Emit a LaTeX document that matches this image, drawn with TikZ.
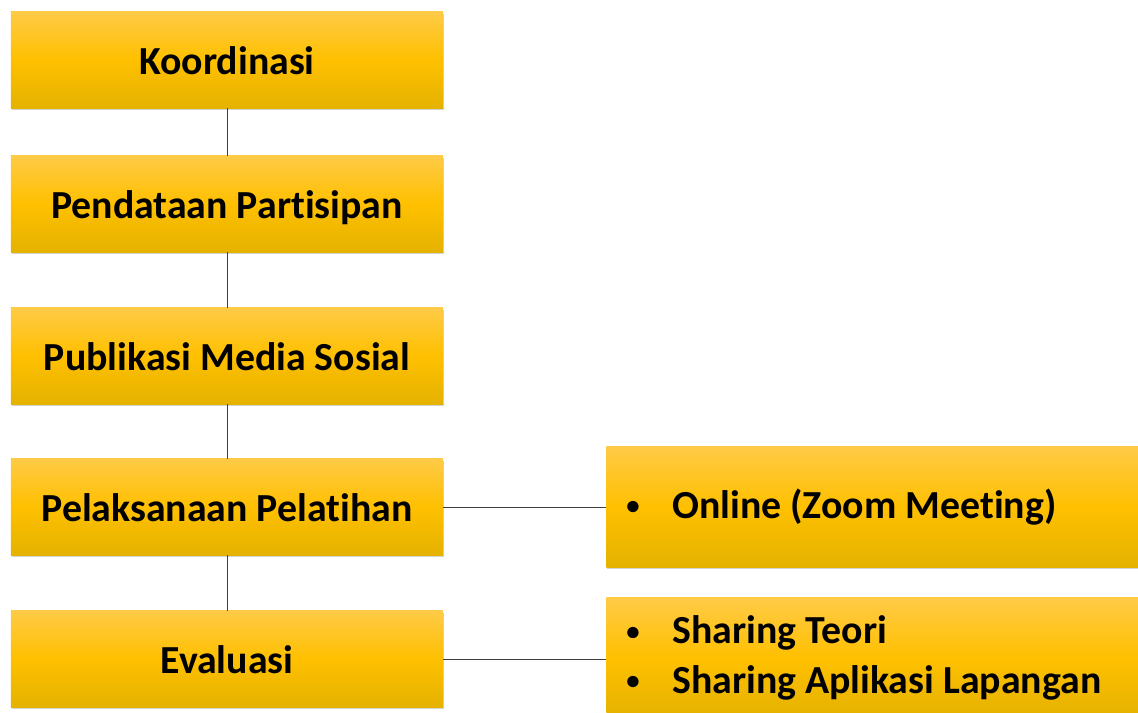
\documentclass[tikz,border=0pt]{standalone}
\usepackage{fontspec}
\setmainfont{Carlito}[RawFeature={-liga;-clig;-dlig;-calt;-rlig}]
\usetikzlibrary{shadows}

\definecolor{goldtop}{RGB}{255,202,70}
\definecolor{goldmid}{RGB}{255,192,0}
\definecolor{goldbot}{RGB}{228,178,0}
\definecolor{linegray}{RGB}{64,64,64}

\tikzset{
	box/.style={rectangle, top color=goldtop, bottom color=goldbot, middle color=goldmid,
		drop shadow={opacity=0.35, shadow xshift=0.8pt, shadow yshift=-1.6pt},
		font=\fontsize{28.3}{35}\selectfont\bfseries},
	leftbox/.style={box, minimum width=10.8cm, minimum height=2.4cm, inner sep=0pt,
		text height=20pt, text depth=0pt},
	rightbox/.style={box, anchor=west, minimum height=3cm, text width=12.5cm,
		inner xsep=0.5cm, align=left},
	link/.style={draw=linegray, line width=0.7pt}
}
\newcommand{\bul}{\spaceskip=0pt\relax\makebox[1.15cm][l]{\raisebox{2.5pt}{\fontsize{19}{19}\selectfont\textbullet}}}

\begin{document}
\begin{tikzpicture}[x=0.025cm, y=-0.025cm]
	\useasboundingbox (0,0) rectangle (1138,712);
	\clip (0,0) rectangle (1138,712);

	\node[leftbox] (koord) at (227,60) {Koordinasi};
	\node[leftbox] (data) at (227,204) {Pendataan Partisipan};
	\node[leftbox] (publ) at (227,356) {Publikasi Media Sosial};
	\node[leftbox] (pelak) at (227,507) {Pelaksanaan Pelatihan};
	\node[leftbox] (eval) at (227,659) {Evaluasi};

	\node[rightbox] (online) at (606,507) {\bul Online (Zoom Meeting)};
	\node[rightbox] (share) at (606,658) {\bul Sharing Teori\\ \bul Sharing Aplikasi Lapangan};

	\draw [link] (koord) -- (data) ;
	\draw [link] (data) -- (publ) ;
	\draw [link] (publ) -- (pelak) ;
	\draw [link] (pelak) -- (eval) ;
	\draw [link] (pelak) -- (online) ;
	\draw [link] (eval.east) -- (eval.east -| share.west) ;
\end{tikzpicture}
\end{document}
